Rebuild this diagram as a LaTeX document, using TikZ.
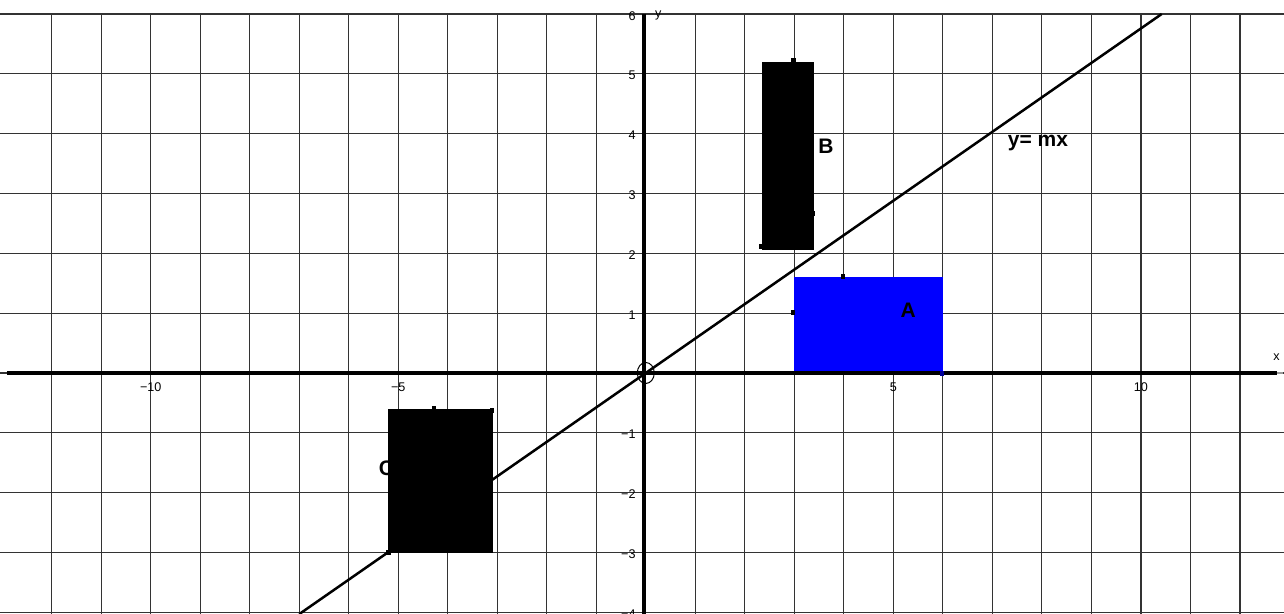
\documentclass[tikz,border=0pt]{standalone}
\usepackage{fontspec}
\setmainfont{Liberation Sans}
\begin{document}
\begin{tikzpicture}[x=24.755pt,y=29.915pt,
  gridline/.style={black!80, line width=0.6pt},
  axisline/.style={black, line width=2.3pt},
  ticklbl/.style={font=\fontsize{6.3}{7}\selectfont, inner sep=0pt},
  biglbl/.style={font=\fontsize{10.5}{12}\selectfont\bfseries, inner sep=0pt},
  marker/.style={fill=black, minimum size=2.3pt, inner sep=0pt, draw=none, rectangle},
  shapefill/.style={draw=none}]
\useasboundingbox (-13.044,-4.028) rectangle (12.890,6.234);
% grid
\foreach \k in {-12,...,12} \draw[gridline] (\k,-4.028) -- (\k,6);
\foreach \j in {-4,...,6} \draw[gridline] (-13.044,\j) -- (12.89,\j);
% line y = mx
\coordinate (L1) at (-7,-4.03);
\coordinate (L2) at (10.42,6.0);
\draw[line width=1.25pt] (L1) -- (L2);
% label C (partly hidden by rectangle)
\node[biglbl] (lblC) at (-5.24,-1.59) {C};
% rectangles
\fill[blue, shapefill] (3,0) rectangle (6,1.6);
\fill[black, shapefill] (2.347,2.056) rectangle (3.397,5.198);
\fill[black, shapefill] (-5.20,-3.01) rectangle (-3.09,-0.60);
% axes
\draw[black!40, line width=0.6pt] (12.7,0) -- (12.86,0);
\draw[axisline] (-12.9,0) -- (12.75,0);
\draw[axisline] (-0.04,6) -- (-0.04,-4.03);
% markers
\node[marker] (mA1) at (2.97,1.01) {};
\node[marker] (mA2) at (3.98,1.61) {};
\node[marker, fill=blue!60!black] (mA3) at (5.98,-0.01) {};
\node[marker] (mB1) at (2.98,5.23) {};
\node[marker] (mB2) at (2.34,2.11) {};
\node[marker] (mB3) at (3.38,2.67) {};
\node[marker] (mC1) at (-4.28,-0.585) {};
\node[marker] (mC2) at (-3.11,-0.63) {};
\node[marker] (mC3) at (-5.2,-3.0) {};
% origin circle
\draw[line width=0.5pt] (0,0) ellipse [x radius=4.25pt, y radius=5.25pt];
% tick labels
\foreach \k/\t in {-10/{−10},-5/{−5},5/5,10/10}
  \node[ticklbl] (xl\k) at (\k,-0.24) {\t};
\foreach \j/\t in {6/6,5/5,4/4,3/3,2/2,1/1,-1/{−1},-2/{−2},-3/{−3},-4/{−4}}
  \node[ticklbl, anchor=east] (yl\j) at (-0.2,\j-0.03) {\t};
\node[ticklbl] (xname) at (12.74,0.26) {x};
\node[ticklbl] (yname) at (0.25,5.98) {y};
% labels
\node[biglbl] (lblA) at (5.30,1.04) {A};
\node[biglbl] (lblB) at (3.64,3.79) {B};
\node[biglbl] (lblm) at (7.92,3.84) {y= mx};
\end{tikzpicture}
\end{document}
